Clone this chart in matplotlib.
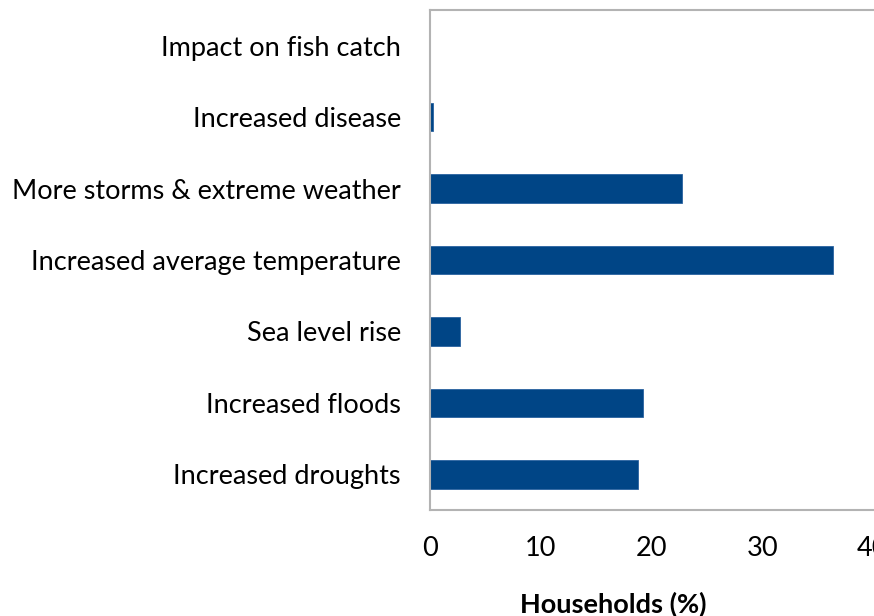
import matplotlib
matplotlib.use("Agg")
import matplotlib.pyplot as plt

categories = [
    "Increased droughts",
    "Increased floods",
    "Sea level rise",
    "Increased average temperature",
    "More storms & extreme weather",
    "Increased disease",
    "Impact on fish catch",
]
households_pct = [18.8, 19.2, 2.7, 36.4, 22.8, 0.3, 0.0]
x_ticks = [0, 10, 20, 30, 40]

plt.rcParams["font.family"] = ["Lato", "DejaVu Sans"]

W, H = 874, 616
fig = plt.figure(figsize=(W / 100, H / 100), dpi=100)
ax_left, ax_right, ax_top, ax_bottom = 430, 880, 10, 510
ax = fig.add_axes([ax_left / W, 1 - ax_bottom / H,
                   (ax_right - ax_left) / W, (ax_bottom - ax_top) / H])

bar_color = "#004586"
ax.barh(range(len(categories)), households_pct, height=0.4,
        color=bar_color, edgecolor="#2a62a0", linewidth=0.6)

ax.set_ylim(-0.5, len(categories) - 0.5)
ax.set_xlim(0, (ax_right - ax_left) / 11.07)
ax.set_xticks(x_ticks)
ax.set_xticklabels([str(t) for t in x_ticks])
ax.set_yticks(range(len(categories)))
ax.set_yticklabels(categories)

ax.tick_params(axis="both", length=0, labelsize=19.5, colors="black")
ax.tick_params(axis="y", pad=21)
ax.tick_params(axis="x", pad=18.5)

for side in ["left", "top", "bottom"]:
    ax.spines[side].set_color("#b3b3b3")
    ax.spines[side].set_linewidth(1.5)
ax.spines["right"].set_visible(False)

ax.set_xlabel("Households (%)", fontsize=19.5, fontweight="bold")
ax.xaxis.set_label_coords(0.407, -0.163)

fig.savefig("out.png", dpi=100)
